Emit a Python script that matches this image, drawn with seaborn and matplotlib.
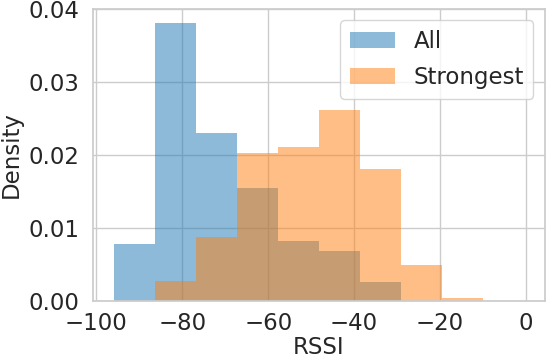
import seaborn as sns
import matplotlib.pyplot as plt
import pandas as pd

# histogram bins (RSSI, dBm) shared by both series
bin_edges = [-96.0, -86.44, -76.89, -67.33, -57.78, -48.22, -38.67, -29.11, -19.56, -10.0]
bin_centers = [(a + b) / 2 for a, b in zip(bin_edges[:-1], bin_edges[1:])]

# density per bin
all_density = [0.0078, 0.0381, 0.0230, 0.0155, 0.0082, 0.0068, 0.0026, 0.0, 0.0]
strongest_density = [0.0, 0.0027, 0.0088, 0.0202, 0.0211, 0.0261, 0.0181, 0.0049, 0.0004]

series_names = ["All", "Strongest"]
colors = ["tab:blue", "tab:orange"]

sns.set_theme(style="whitegrid")
plt.rcParams["font.family"] = ["DejaVu Sans"]
fs = 16.5

fig, ax = plt.subplots(figsize=(5.47, 3.59), dpi=100)
# draw "All" first so "Strongest" sits on top (brownish overlap)
for name, dens, col in zip(series_names, [all_density, strongest_density], colors):
    sns.histplot(x=bin_centers, weights=dens, bins=bin_edges, stat="count",
                 element="step", linewidth=0, color=col, alpha=0.5,
                 label=name, ax=ax)

ax.set_xlim(-100.8, 4.4)
ax.set_ylim(0, 0.04)
ax.set_xticks([-100, -80, -60, -40, -20, 0])
ax.set_yticks([0.0, 0.01, 0.02, 0.03, 0.04])
ax.set_ylabel("Density", fontsize=fs, labelpad=4)
ax.set_xlabel("RSSI", fontsize=fs, labelpad=1)
ax.tick_params(labelsize=fs)
ax.tick_params(axis="x", pad=2)
ax.legend(loc="upper right", fontsize=fs, labelspacing=0.6)

fig.subplots_adjust(left=0.170, right=0.996, top=0.975, bottom=0.162)
plt.savefig("out.png")
